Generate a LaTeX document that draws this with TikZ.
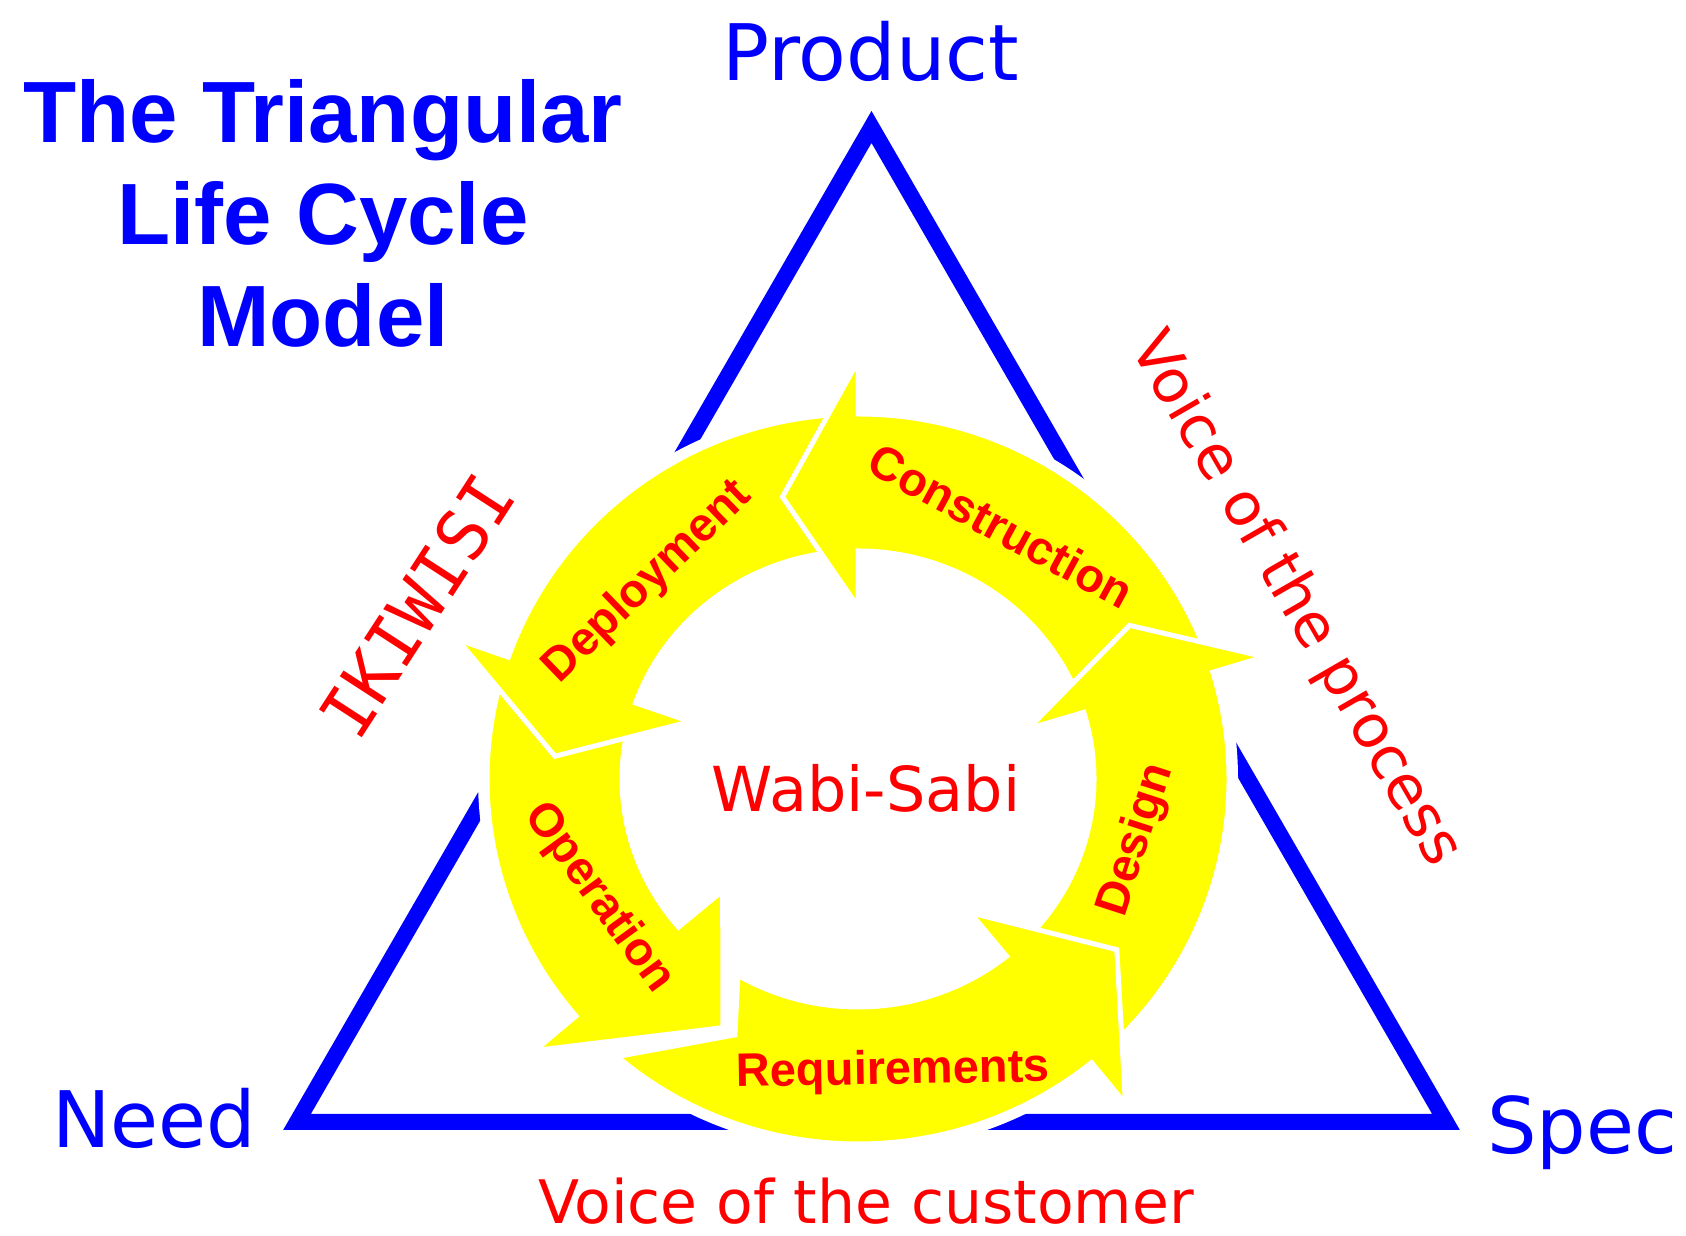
\documentclass[tikz,border=0pt]{standalone}
\usepackage{fontspec}
\setmainfont{Liberation Sans}
\newfontfamily\handfont{DejaVu Sans}
\newfontfamily\handmono{DejaVu Sans Mono}
\usepackage{tikz}
\usetikzlibrary{calc}
\definecolor{lcblue}{RGB}{0,0,255}
\definecolor{lcred}{RGB}{255,0,0}
\definecolor{lcyellow}{RGB}{255,255,0}
\tikzstyle{title}=[text=lcblue,font=\bfseries\fontsize{43.5}{51}\selectfont,anchor=base]
\tikzstyle{corner}=[text=lcblue,font=\handfont\fontsize{39}{47}\selectfont,anchor=base]
\tikzstyle{voice}=[text=lcred,font=\handfont\fontsize{30}{36}\selectfont,inner sep=1pt]
\tikzstyle{phase}=[text=lcred,font=\bfseries\fontsize{23.5}{28}\selectfont,inner sep=1pt]
\tikzstyle{bandarrow}=[fill=lcyellow,draw=white,line width=2.5pt,line join=miter]
% #1/#2 tail angle outside/inside, #3 notch, #4 barbs, #5 tip angle, #6 tip radius
\newcommand\cyclearrow[6]{%
  \filldraw[bandarrow] (#1:371 and 365)
    arc[start angle=#1, end angle=#4, x radius=371, y radius=365]
    -- (#4:425 and 418) -- (#5:#6) -- (#4:178 and 172) -- (#4:236 and 228)
    arc[start angle=#4, end angle=#2, x radius=236, y radius=228]
    -- (#3) -- cycle;
}

\begin{document}
\begin{tikzpicture}[x=0.5pt,y=0.5pt]
    \useasboundingbox (0,0) rectangle (1686,1236);
    \coordinate (apex) at (871.5,1109);
    \coordinate (needcorner) at (297,114);
    \coordinate (speccorner) at (1446,114);
    \coordinate (ring) at (858,457);

    % triangle
    \draw[lcblue,line width=8pt,line join=miter] (needcorner) -- (apex) -- (speccorner) -- cycle;
    \fill[white] (ring) ellipse [x radius=380, y radius=373];

    % the five phases
    \begin{scope}[shift={(ring)}]
      \cyclearrow{163.5}{163.5}{163.5:300}{220.5}{241.5}{283}  % operation
      \cyclearrow{93}{93}{93:300}{160.5}{175.7}{304}            % deployment
      \cyclearrow{20}{20}{20:300}{90}{105}{292}                 % construction
      \cyclearrow{312}{312}{312:300}{377}{389.5}{312}           % design
      \cyclearrow{229.5}{239.4}{244.3:284}{309}{326.6}{310}     % requirements
    \end{scope}

    \node [phase,rotate=-28.5] (construction) at (1001,710) {Construction};
    \node [phase,rotate=44] (deployment) at (648,654) {Deployment};
    \node [phase,rotate=-54] (operation) at (599,338) {Operation};
    \node [phase,rotate=1] (requirements) at (893,164) {Requirements};
    \node [phase,rotate=72] (design) at (1137,396) {Design};

    \node [voice,anchor=base,font=\handfont\fontsize{31}{37}\selectfont] (wabisabi) at (866,424) {Wabi-Sabi};
    \node [voice,anchor=base] (customer) at (866,12) {Voice of the customer};
    \node [voice,rotate=-60] (process) at (1295,636) {Voice of the process};
    \node [voice,font=\handmono\fontsize{35}{42}\selectfont,rotate=57] (ikiwisi) at (417,630) {IKIWISI};

    \node [corner] (product) at (871,1155) {Product};
    \node [corner] (need) at (154,88) {Need};
    \node [corner] (spec) at (1582,82) {Spec};

    \node [title] (model) at (323,1093) {\parbox[t]{14cm}{\centering The Triangular\\Life Cycle\\Model}};
\end{tikzpicture}
\end{document}
